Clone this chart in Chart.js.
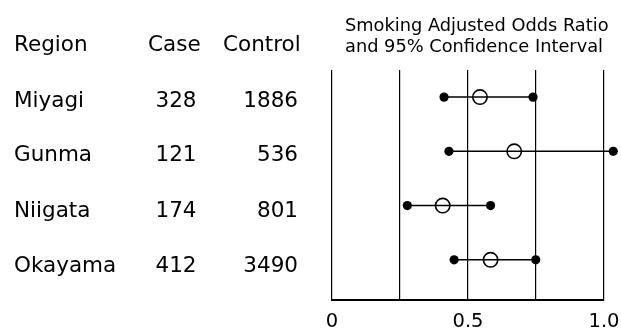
<!DOCTYPE html>
<html>
<head>
<meta charset="utf-8">
<script src="https://cdn.jsdelivr.net/npm/chart.js@4.4.0/dist/chart.umd.min.js"></script>
<style>
    body { margin: 0; background: #fff; }
    #wrap { position: relative; width: 621px; height: 328px; overflow: hidden; font-family: "DejaVu Sans", sans-serif; color: #000; }
    #wrap canvas { position: absolute; left: 0; top: 0; }
    .t { position: absolute; font-size: 21.5px; line-height: 21.5px; white-space: nowrap; }
    .title { position: absolute; left: 345px; top: 14px; font-size: 17.8px; line-height: 21px; white-space: nowrap; }
</style>
</head>
<body>
<div id="wrap">
    <canvas id="forestChart" width="621" height="328"></canvas>
    <div class="title">Smoking Adjusted Odds Ratio<br>and 95% Confidence Interval</div>
</div>
<script>
// Data
const regions = ['Miyagi', 'Gunma', 'Niigata', 'Okayama'];
const cases = [328, 121, 174, 412];
const controls = [1886, 536, 801, 3490];
const oddsRatio = [0.544, 0.670, 0.407, 0.583];
const ciLower = [0.412, 0.430, 0.277, 0.449];
const ciUpper = [0.739, 1.034, 0.583, 0.749];
const tickLabels = { 0: '0', 0.5: '0.5', 1: '1.0' };

// Table on the left (plain html text)
const wrap = document.getElementById('wrap');
const rowCenters = [99, 153, 209, 264];
function addText(txt, x, yCenter, align) {
    const d = document.createElement('div');
    d.className = 't';
    d.textContent = txt;
    d.style.top = (yCenter - 10.4) + 'px';
    if (align === 'right') {
        d.style.right = (621 - x) + 'px';
    } else if (align === 'center') {
        d.style.left = x + 'px';
        d.style.transform = 'translateX(-50%)';
    } else {
        d.style.left = x + 'px';
    }
    wrap.appendChild(d);
}
addText('Region', 14, 43, 'left');
addText('Case', 148, 43, 'left');
addText('Control', 223, 43, 'left');
regions.forEach(function(r, i) {
    addText(r, 14, rowCenters[i], 'left');
    addText(String(cases[i]), 176, rowCenters[i], 'center');
    addText(String(controls[i]), 298, rowCenters[i], 'right');
});

// Gunma's upper limit sits past 1.0, so let points draw outside the chart area
const origPointDraw = Chart.PointElement.prototype.draw;
Chart.PointElement.prototype.draw = function(ctx, area) {
    origPointDraw.call(this, ctx, { left: 0, top: 0, right: 621, bottom: 328 });
};

// Chart datasets: one CI line per region + open circles for estimates
const datasets = regions.map(function(r, i) {
    return {
        type: 'line',
        label: r,
        data: [{ x: ciLower[i], y: i }, { x: ciUpper[i], y: i }],
        borderColor: '#000',
        borderWidth: 1.5,
        pointRadius: 4.6,
        pointBackgroundColor: '#000',
        pointBorderColor: '#000',
        pointBorderWidth: 0,
        clip: false
    };
});
datasets.push({
    type: 'scatter',
    label: 'Odds ratio',
    data: oddsRatio.map(function(v, i) { return { x: v, y: i }; }),
    pointRadius: 7.2,
    pointBackgroundColor: '#fff',
    pointBorderColor: '#000',
    pointBorderWidth: 1.6,
    clip: false
});

new Chart(document.getElementById('forestChart').getContext('2d'), {
    type: 'scatter',
    data: { datasets: datasets },
    options: {
        responsive: false,
        animation: false,
        layout: { padding: { left: 332, right: 17, top: 70, bottom: 0 } },
        plugins: { legend: { display: false }, tooltip: { enabled: false }, title: { display: false } },
        scales: {
            x: {
                type: 'linear',
                min: 0,
                max: 1,
                afterFit: function(scale) {
                    scale.height = 28;
                    scale.paddingLeft = 0;
                    scale.paddingRight = 0;
                },
                ticks: {
                    stepSize: 0.25,
                    autoSkip: false,
                    maxRotation: 0,
                    padding: 10,
                    color: '#000',
                    font: { family: 'DejaVu Sans', size: 19.5 },
                    callback: function(v) { return tickLabels[v] !== undefined ? tickLabels[v] : ''; }
                },
                grid: { color: '#000', lineWidth: 1.2, drawTicks: false },
                border: { display: true, color: '#000', width: 2 }
            },
            y: {
                type: 'linear',
                display: false,
                reverse: true,
                min: -0.5,
                max: 3.74
            }
        }
    }
});
</script>
</body>
</html>
